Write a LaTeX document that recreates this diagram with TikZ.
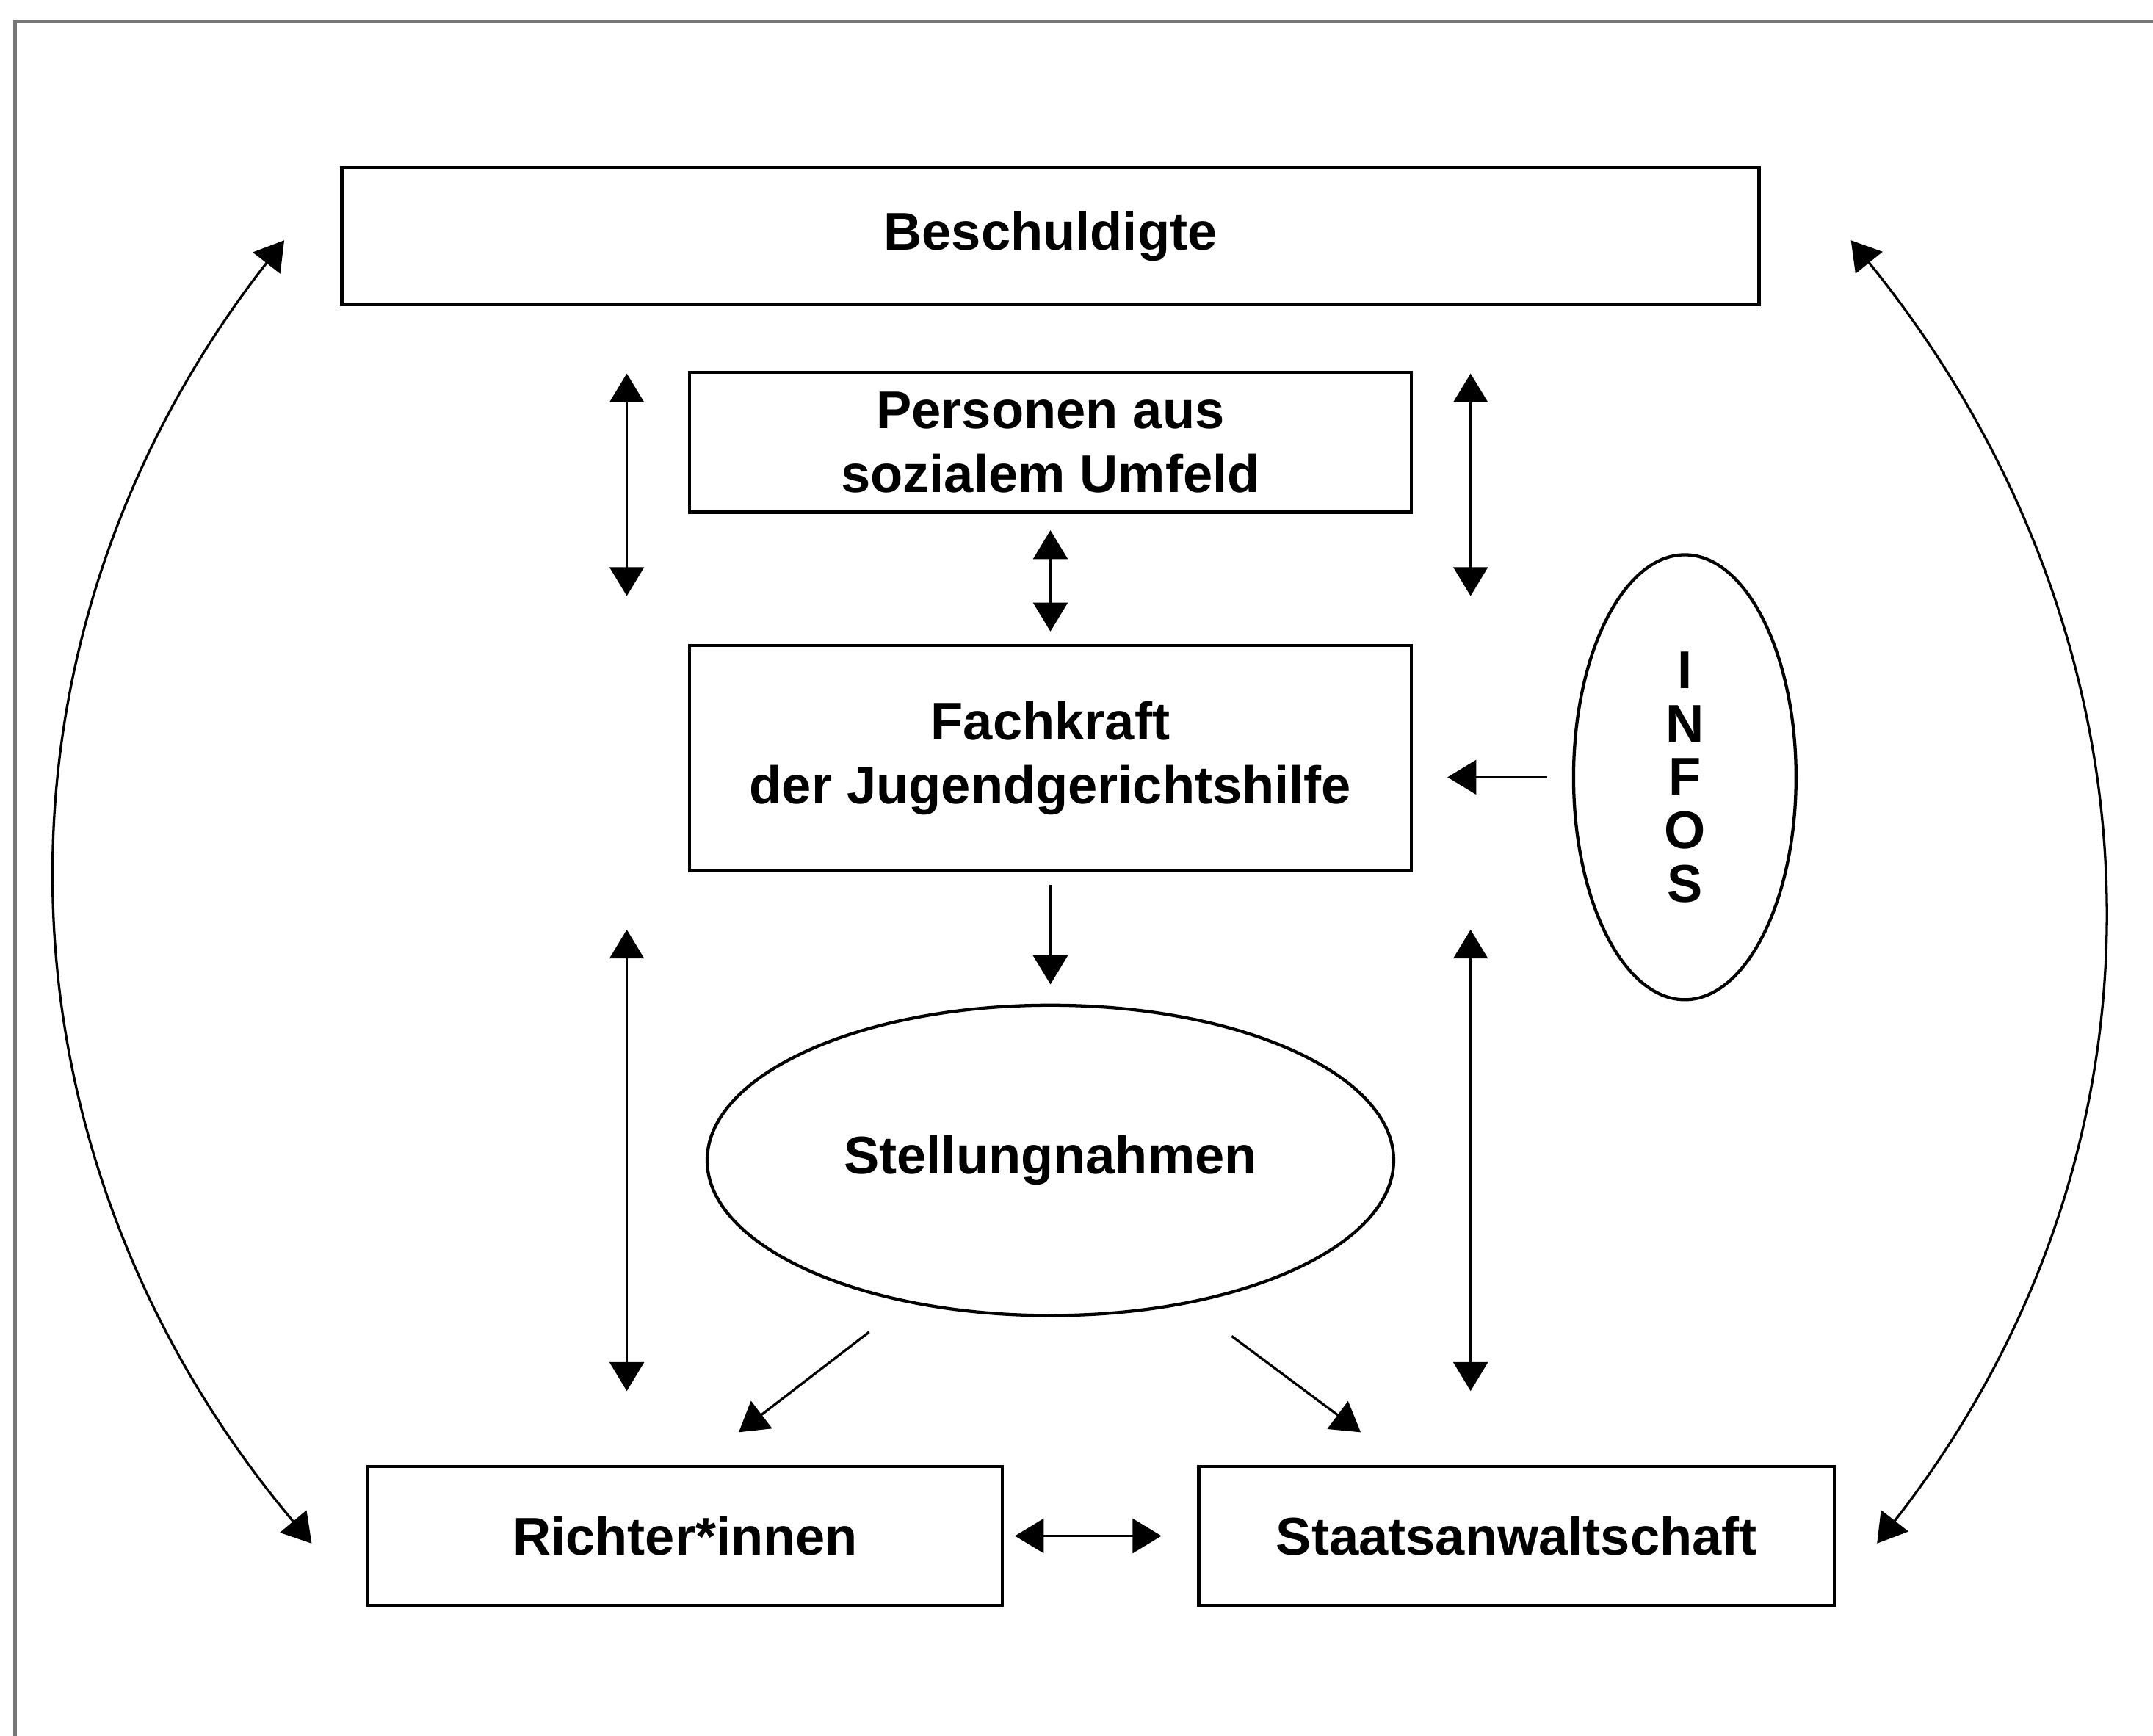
\documentclass[tikz,border=0pt]{standalone}
\usepackage{fontspec}
\setmainfont{Liberation Sans}
\usetikzlibrary{shapes.geometric, arrows.meta, positioning, calc}
\definecolor{framegray}{HTML}{777777}

\tikzset{
  box/.style={draw, line width=1.3pt, minimum height=2.02cm, align=center,
    font=\bfseries\fontsize{22}{26.5}\selectfont},
  bubble/.style={draw, ellipse, line width=1.3pt, align=center,
    font=\bfseries\fontsize{22}{26.5}\selectfont},
  oneway/.style={line width=1pt, -{Triangle[length=0.42cm,width=0.5cm]}},
  twoway/.style={line width=1pt,
    {Triangle[length=0.42cm,width=0.5cm]}-{Triangle[length=0.42cm,width=0.5cm]}}
}

\begin{document}
\begin{tikzpicture}
    \useasboundingbox (0,0) rectangle (31.36,-25.28);
    \fill[white] (0,0) rectangle (31.36,-25.28);

    % Frame (only top and left edge visible)
    \draw[framegray, line width=1.5pt] (0.22,-25.6) -- (0.22,-0.315) -- (31.7,-0.315);

    % Boxes and ellipses
    \node[box, minimum width=20.64cm, minimum height=2.0cm] (besch) at (15.30,-3.44)
      {Beschuldigte};
    \node[box, minimum width=10.52cm, minimum height=2.04cm] (umfeld) at (15.30,-6.44)
      {Personen aus\\sozialem Umfeld};
    \node[box, minimum width=10.52cm, minimum height=3.28cm] (fachkraft) at (15.30,-11.04)
      {Fachkraft\\der Jugendgerichtshilfe};
    \node[bubble, minimum width=10cm, minimum height=4.52cm] (stellung) at (15.30,-16.90)
      {Stellungnahmen};
    \node[bubble, inner sep=0pt, minimum width=3.24cm, minimum height=6.48cm,
      font=\bfseries\fontsize{22}{22.1}\selectfont] (infos) at (24.54,-11.32)
      {I\\N\\F\\O\\S};
    \node[box, minimum width=9.24cm] (richter) at (9.98,-22.37) {Richter*innen};
    \node[box, minimum width=9.26cm] (staat) at (22.09,-22.37) {Staatsanwaltschaft};

    % Free arrow ends
    \coordinate (luA) at (9.13,-5.44);   \coordinate (luB) at (9.13,-8.68);
    \coordinate (ruA) at (21.42,-5.44);  \coordinate (ruB) at (21.42,-8.68);
    \coordinate (llA) at (9.13,-13.54);  \coordinate (llB) at (9.13,-20.26);
    \coordinate (rlA) at (21.42,-13.54); \coordinate (rlB) at (21.42,-20.26);
    \coordinate (stR) at (12.66,-19.40); \coordinate (toR) at (10.76,-20.86);
    \coordinate (stS) at (17.94,-19.46); \coordinate (toS) at (19.82,-20.86);
    \coordinate (arcLA) at (4.14,-3.50); \coordinate (arcLB) at (4.54,-22.48);
    \coordinate (arcRA) at (26.96,-3.50); \coordinate (arcRB) at (27.34,-22.48);

    % Arrows in the middle
    \draw[twoway] (luA) -- (luB);
    \draw[twoway] (ruA) -- (ruB);
    \draw[twoway] (llA) -- (llB);
    \draw[twoway] (rlA) -- (rlB);
    \draw[twoway, shorten <=0.24cm, shorten >=0.18cm] (umfeld.south) -- (fachkraft.north);
    \draw[oneway, shorten <=0.18cm, shorten >=0.28cm] (fachkraft.south) -- (stellung.north);
    \draw[oneway, shorten <=0.36cm, shorten >=0.5cm] (infos.west) -- (infos.west -| fachkraft.east);
    \draw[oneway] (stR) -- (toR);
    \draw[oneway] (stS) -- (toS);
    \draw[twoway, shorten <=0.16cm, shorten >=0.52cm] (richter.east) -- (staat.west);

    % Outer arcs
    \draw[twoway] (arcLA) to[out=232, in=130] (arcLB);
    \draw[twoway] (arcRA) to[out=309, in=52] (arcRB);
\end{tikzpicture}
\end{document}
